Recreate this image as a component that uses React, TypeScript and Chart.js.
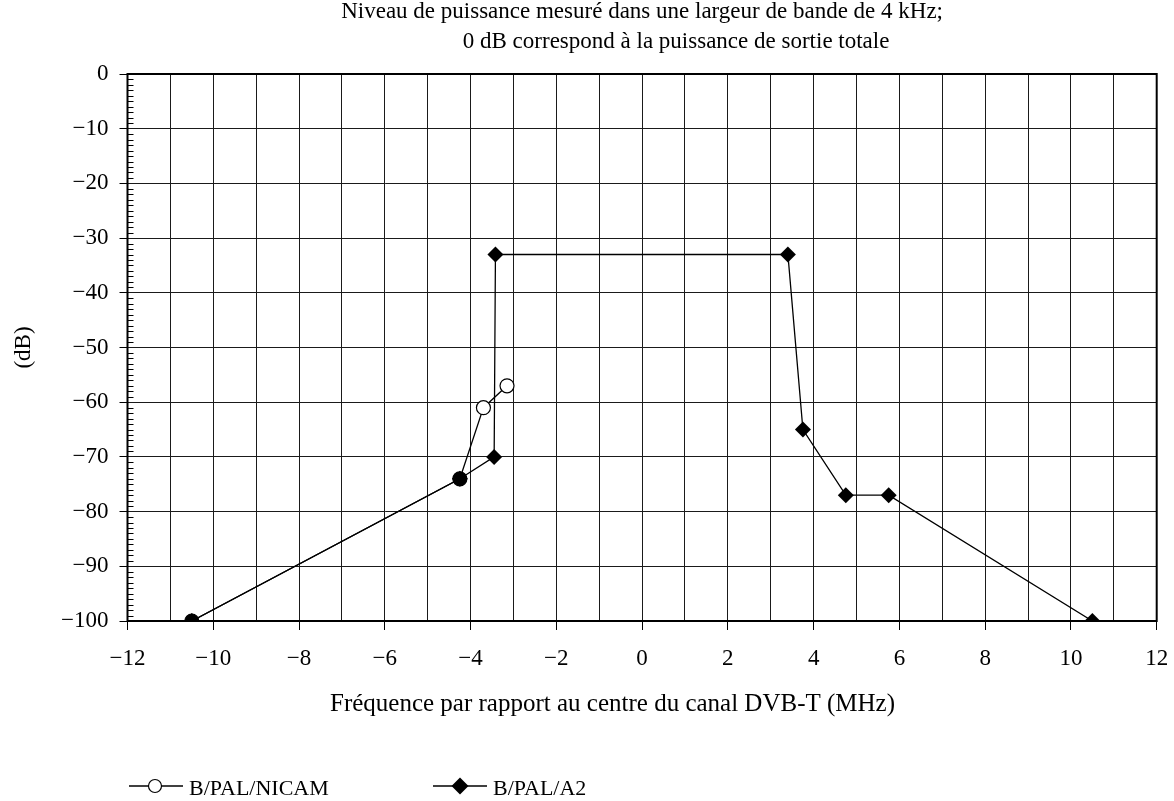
import React, { useEffect, useRef } from 'react';
import { Chart, registerables } from 'chart.js';

Chart.register(...registerables);

// ---- Texts ----
const titleLines = [
  'Niveau de puissance mesuré dans une largeur de bande de 4 kHz;',
  '0 dB correspond à la puissance de sortie totale',
];
const xAxisTitle = 'Fréquence par rapport au centre du canal DVB-T (MHz)';
const yAxisTitle = '(dB)';
const seriesNames = ['B/PAL/NICAM', 'B/PAL/A2'];

// ---- Data ----
const nicamFreq = [-10.5, -4.25, -3.7, -3.15];
const nicamLevel = [-100, -74, -61, -57];
const a2Freq = [-10.5, -4.25, -3.45, -3.42, 3.4, 3.75, 4.75, 5.75, 10.5];
const a2Level = [-100, -74, -70, -33, -33, -65, -77, -77, -100];

// ---- Axis ticks ----
const xMin = -12;
const xMax = 12;
const xGridStep = 1;
const xLabelStep = 2;
const yMin = -100;
const yMax = 0;
const yStep = 10;
const yMinorStep = 1;

const FONT = "'Liberation Serif', 'Times New Roman', Times, serif";
const W = 1174;
const H = 801;

const fmt = (v: number) => (v < 0 ? '\u2212' + Math.abs(v) : String(v));

const nicamPoints = nicamFreq.map((x, i) => ({ x, y: nicamLevel[i] }));
const a2Points = a2Freq.map((x, i) => ({ x, y: a2Level[i] }));
// circles hidden under a diamond appear as solid blobs in the reference
const nicamFill = nicamPoints.map((p) =>
  a2Points.some((q) => q.x === p.x && q.y === p.y) ? '#000' : '#fff'
);

function drawCircle(ctx: CanvasRenderingContext2D, x: number, y: number, r: number, fill: string) {
  ctx.beginPath();
  ctx.arc(x, y, r, 0, Math.PI * 2);
  ctx.fillStyle = fill;
  ctx.fill();
  ctx.lineWidth = 1.2;
  ctx.strokeStyle = '#000';
  ctx.stroke();
}
function drawDiamond(ctx: CanvasRenderingContext2D, x: number, y: number, r: number) {
  ctx.beginPath();
  ctx.moveTo(x, y - r);
  ctx.lineTo(x + r, y);
  ctx.lineTo(x, y + r);
  ctx.lineTo(x - r, y);
  ctx.closePath();
  ctx.fillStyle = '#000';
  ctx.fill();
}

const decorPlugin = {
  id: 'decor',
  beforeDatasetsDraw(chart: any) {
    const { ctx, chartArea: a, scales } = chart;
    const ys = scales.y;
    ctx.save();
    ctx.strokeStyle = '#000';
    ctx.lineWidth = 1;
    for (let v = yMin; v <= yMax; v += yMinorStep) {
      if (v % yStep === 0) continue;
      const py = Math.round(ys.getPixelForValue(v)) + 0.5;
      ctx.beginPath();
      ctx.moveTo(a.left, py);
      ctx.lineTo(a.left + 6, py);
      ctx.stroke();
    }
    ctx.lineWidth = 2;
    ctx.strokeRect(a.left, a.top, a.right - a.left, a.bottom - a.top);
    ctx.restore();
  },
  afterDraw(chart: any) {
    const { ctx, chartArea: a } = chart;
    ctx.save();
    ctx.fillStyle = '#000';
    // chart title
    ctx.font = `23px ${FONT}`;
    ctx.textBaseline = 'alphabetic';
    const cx = (a.left + a.right) / 2;
    ctx.textAlign = 'center';
    ctx.fillText(titleLines[0], cx, 18);
    ctx.fillText(titleLines[1], cx + 34, 48);
    // x axis title
    ctx.font = `25px ${FONT}`;
    ctx.textAlign = 'left';
    ctx.fillText(xAxisTitle, 330, 711);
    // y axis title
    ctx.save();
    ctx.font = `23px ${FONT}`;
    ctx.translate(24, (a.top + a.bottom) / 2);
    ctx.rotate(-Math.PI / 2);
    ctx.textAlign = 'center';
    ctx.textBaseline = 'middle';
    ctx.fillText(yAxisTitle, 0, 0);
    ctx.restore();
    // legend
    const ly = 786;
    const items = [129, 433];
    items.forEach((x0, i) => {
      ctx.strokeStyle = '#000';
      ctx.lineWidth = 1.3;
      ctx.beginPath();
      ctx.moveTo(x0, ly);
      ctx.lineTo(x0 + 54, ly);
      ctx.stroke();
      if (i === 0) drawCircle(ctx, x0 + 26, ly, 6.5, '#fff');
      else drawDiamond(ctx, x0 + 27, ly, 8.5);
      ctx.fillStyle = '#000';
      ctx.font = `22px ${FONT}`;
      ctx.textAlign = 'left';
      ctx.textBaseline = 'alphabetic';
      ctx.fillText(seriesNames[i], x0 + 60, 795);
    });
    ctx.restore();
  },
};

export default function App() {
  const ref = useRef<HTMLCanvasElement | null>(null);
  useEffect(() => {
    if (!ref.current) return;
    const chart = new Chart(ref.current, {
      type: 'scatter',
      data: {
        datasets: [
          {
            label: seriesNames[1],
            data: a2Points,
            showLine: true,
            borderColor: '#000',
            borderWidth: 1.3,
            pointStyle: 'rectRot',
            pointRadius: 8,
            pointBackgroundColor: '#000',
            pointBorderColor: '#000',
            pointBorderWidth: 0,
            order: 1,
          },
          {
            label: seriesNames[0],
            data: nicamPoints,
            showLine: true,
            borderColor: '#000',
            borderWidth: 1.3,
            pointStyle: 'circle',
            pointRadius: 7,
            pointBackgroundColor: nicamFill,
            pointBorderColor: '#000',
            pointBorderWidth: 1.2,
            order: 2,
          },
        ],
      },
      options: {
        animation: false,
        responsive: false,
        devicePixelRatio: 1,
        layout: { padding: { top: 74, right: 17.3, left: 0, bottom: 0 } },
        plugins: {
          legend: { display: false },
          title: { display: false },
          tooltip: { enabled: false },
        },
        scales: {
          x: {
            type: 'linear',
            min: xMin,
            max: xMax,
            afterFit: (s: any) => {
              s.height = 180;
              s.paddingLeft = 0;
              s.paddingRight = 0;
            },
            grid: {
              color: '#1a1a1a',
              lineWidth: 1,
              tickLength: 9,
              tickColor: (c: any) =>
                c.tick && Math.abs(c.tick.value % xLabelStep) === 0 ? '#000' : 'rgba(0,0,0,0)',
            },
            border: { display: true, color: '#000', width: 1 },
            ticks: {
              stepSize: xGridStep,
              autoSkip: false,
              maxRotation: 0,
              minRotation: 0,
              padding: 15,
              color: '#000',
              font: { family: FONT, size: 23 },
              callback: (v: any) => (Math.abs(Number(v) % xLabelStep) === 0 ? fmt(Number(v)) : ''),
            },
          },
          y: {
            type: 'linear',
            min: yMin,
            max: yMax,
            afterFit: (s: any) => {
              s.width = 127.5;
            },
            grid: { color: '#1a1a1a', lineWidth: 1, tickLength: 8, tickColor: '#000' },
            border: { display: true, color: '#000', width: 1 },
            ticks: {
              stepSize: yStep,
              padding: 11,
              color: '#000',
              font: { family: FONT, size: 23 },
              callback: (v: any) => fmt(Number(v)),
            },
          },
        },
      },
      plugins: [decorPlugin],
    });
    return () => chart.destroy();
  }, []);
  return (
    <div style={{ position: 'absolute', left: 0, top: 0, width: W, height: H, background: '#fff' }}>
      <canvas ref={ref} width={W} height={H} style={{ display: 'block', width: W, height: H }} />
    </div>
  );
}
